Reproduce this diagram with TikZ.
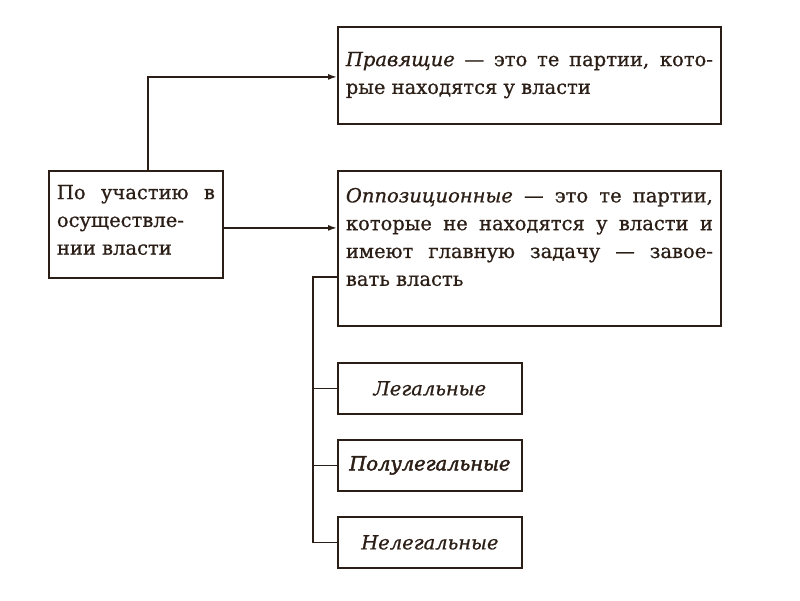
\documentclass[tikz,border=0pt]{standalone}
\usepackage{fontspec}
\setmainfont[FakeBold=0.8]{DejaVu Serif}
\newfontfamily\semifont[FakeBold=2.2]{DejaVu Serif}
\usetikzlibrary{arrows.meta}
\definecolor{ink}{HTML}{2B1E16}
\newcommand{\txt}{\fontsize{19.5}{27.8}\selectfont}
\begin{document}
\begin{tikzpicture}[x=1pt,y=-1pt,
  box/.style={draw=ink,line width=1.8pt,anchor=north west,inner xsep=8pt,inner ysep=0pt,text=ink},
  small/.style={draw=ink,line width=1.8pt,anchor=north west,inner sep=0pt,minimum width=184pt,minimum height=51pt,text=ink,font=\txt\itshape},
  conn/.style={draw=ink,line width=1.5pt},
  arr/.style={conn,-{Latex[length=9pt,width=6pt]}}]
\fill[white] (0,0) rectangle (800,600);
\useasboundingbox (0,0) rectangle (800,600);
\node[box] (left) at (48,170) {\parbox[c][107pt][t]{158pt}{\txt\vspace*{14pt}По участию в\linebreak осуществле-\linebreak нии власти}};
\node[box] (rul) at (337,26) {\parbox[c][97pt][t]{367pt}{\txt\vspace*{25pt}\emph{Правящие} — это те партии, кото-\linebreak рые находятся у власти}};
\node[box] (opp) at (337,170) {\parbox[c][155pt][t]{367pt}{\txt\vspace*{17pt}\emph{Оппозиционные} — это те партии,\linebreak которые не находятся у власти и\linebreak имеют главную задачу — завое-\linebreak вать власть}};
\node[small] (leg) at (337,362) {Легальные};
\node[small,font=\txt\semifont\itshape] (semi) at (337,439) {Полулегальные};
\node[small] (ill) at (337,516) {Нелегальные};
\coordinate (trunk) at (313,277);
\draw[arr] ([xshift=12pt]left.north) |- ([yshift=-1.5pt]rul.west);
\draw[arr] ([yshift=-3.5pt]left.east) -- ([yshift=-3.5pt]left.east -| opp.west);
\draw[conn] (trunk -| opp.west) -- (trunk) |- (ill.west);
\draw[conn] (trunk |- leg.west) -- (leg.west);
\draw[conn] (trunk |- semi.west) -- (semi.west);
\end{tikzpicture}
\end{document}
